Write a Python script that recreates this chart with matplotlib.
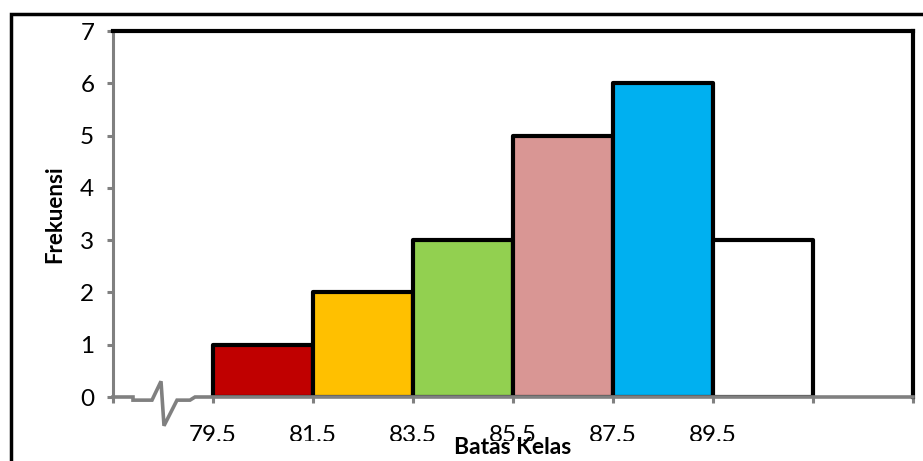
import matplotlib.pyplot as plt
from matplotlib.patches import Rectangle
from matplotlib.transforms import Bbox, TransformedBbox
import numpy as np

plt.rcParams['font.family'] = ['Lato', 'DejaVu Sans']

# class boundaries and frequencies
batas = ['79.5', '81.5', '83.5', '85.5', '87.5', '89.5']
frekuensi = [1, 2, 3, 5, 6, 3]
warna = ['#C00000', '#FFC000', '#92D050', '#D99694', '#00B0F0', '#FFFFFF']

fig = plt.figure(figsize=(9.23, 4.61), dpi=100)
ax = fig.add_axes([113 / 923, 1 - 397 / 461, 800 / 923, 366 / 461])

# bars start at slot 1, each one class wide
left = np.arange(1, len(frekuensi) + 1)
ax.bar(left, frekuensi, width=1, align='edge', color=warna,
       edgecolor='black', linewidth=3, joinstyle='round', zorder=3)

ax.set_xlim(0, 8)
ax.set_ylim(0, 7)
ax.set_yticks(range(0, 8))
ax.set_xticks(range(0, 9))
ax.set_xticklabels([''] + batas + ['', ''])

gray = '#808080'
ax.spines['top'].set_linewidth(3)
ax.spines['right'].set_linewidth(3)
ax.spines['left'].set_color(gray)
ax.spines['left'].set_linewidth(2.2)
ax.spines['bottom'].set_visible(False)
ax.tick_params(axis='both', colors=gray, length=4.5, width=2.2, labelcolor='black',
               labelsize=17.5)
ax.tick_params(axis='y', pad=9)
ax.tick_params(axis='x', pad=16)

# bottom axis with a break mark near the origin
bx = [0, 0.2, 0.2, 0.39, 0.48, 0.51, 0.64, 0.77, 0.82, 8]
by = [0, 0, -0.06, -0.06, 0.3, -0.55, -0.06, -0.06, 0, 0]
ax.plot(bx, by, color=gray, lw=2.6, clip_on=False, zorder=4,
        solid_joinstyle='miter')

# tick labels are cut off at the bottom like the original
clip = TransformedBbox(Bbox([[0, 0.043], [1, 1]]), fig.transFigure)
for lbl in ax.get_xticklabels():
    lbl.set_clip_box(clip)
    lbl.set_clip_on(True)

ax.set_ylabel('Frekuensi', fontsize=16, fontweight='bold', labelpad=11)
fig.text(513 / 923, 1 - 447 / 461, 'Batas Kelas', fontsize=16.5,
         fontweight='bold', ha='center', va='center')

# outer chart border
fig.patches.append(Rectangle((11 / 923, -0.1), 1.2, 1 - 14 / 461 + 0.1,
                             transform=fig.transFigure, fill=False,
                             edgecolor='black', linewidth=2.5))

fig.savefig('out.png', dpi=100)
